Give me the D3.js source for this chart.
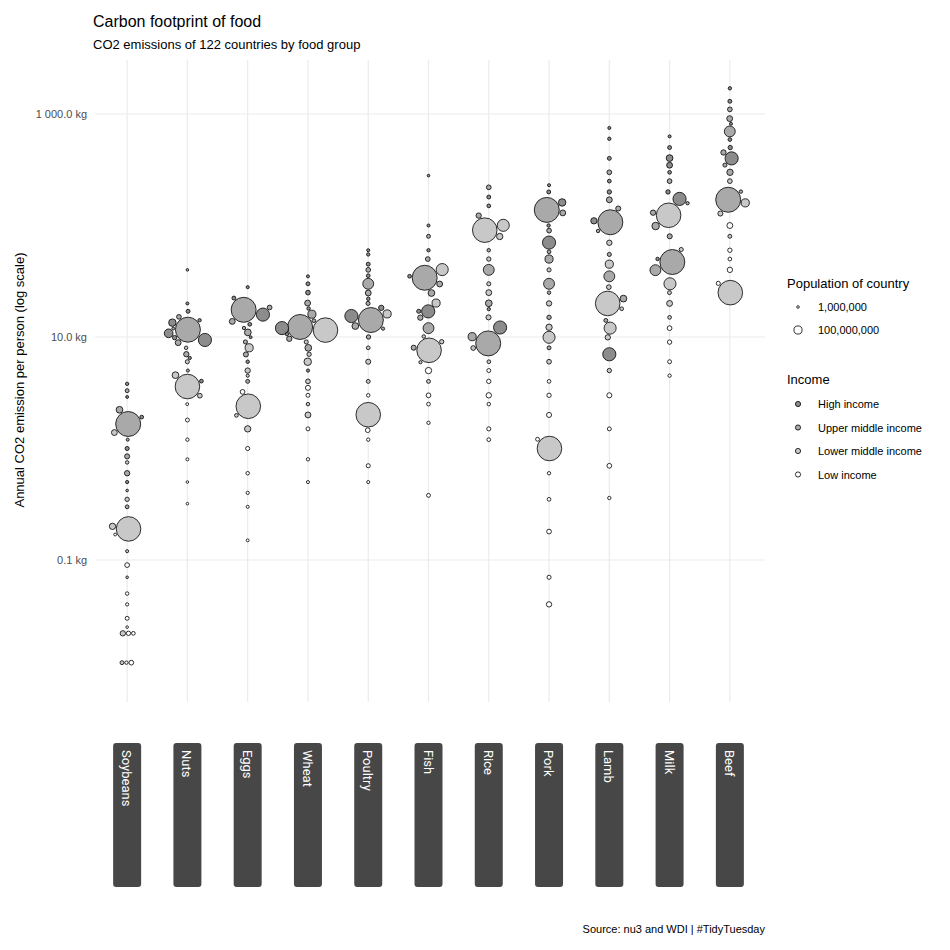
<!DOCTYPE html>
<html lang="en">
<head>
<meta charset="UTF-8">
<title>Carbon footprint of food</title>
<script src="https://cdn.jsdelivr.net/npm/d3@7"></script>
<style>
  body { margin: 0; background: #fff; }
  svg { font-family: "Liberation Sans", Arial, sans-serif; }
</style>
</head>
<body>
<svg width="950" height="950"></svg>
<script>
// categories in plotted order
var foods = ["Soybeans","Nuts","Eggs","Wheat","Poultry","Fish","Rice","Pork","Lamb","Milk","Beef"];
var incomes = ["High income","Upper middle income","Lower middle income","Low income"];
var incomeFill = ["#8c8c8c","#a9a9a9","#c8c8c8","#ffffff"];
var yTicks = [0.1, 10, 1000];
var popTicks = [1e6, 1e8];

// [kg CO2 per person, population in millions, income index]
var soybeans = [[1.66,1400,1],[0.19,1350,2],[3.8,5,0],[3.3,10,1],[2.9,2,0],[2.2,60,1],[1.9,8,0],[1.4,40,2],[1.2,3,1],[1.0,12,0],[0.85,25,1],[0.75,6,2],[0.6,30,1],[0.5,4,0],[0.42,1,1],[0.35,15,2],[0.3,9,1],[0.2,50,2],[0.17,2,3],[0.12,3,2],[0.09,20,3],[0.07,1,2],[0.05,6,3],[0.04,4,3],[0.03,10,3],[0.025,1,3],[0.022,30,2],[0.022,15,3],[0.022,8,3],[0.012,20,3],[0.012,5,3],[0.012,10,2]];
var nuts = [[11.6,1400,1],[3.6,1350,2],[40,1,1],[20,3,0],[17,10,0],[15,20,1],[14,5,0],[13,80,0],[12,2,1],[10,15,0],[9,40,1],[8,6,2],[7,30,1],[6.5,4,0],[6,12,2],[5,3,1],[4.5,60,2],[4,8,0],[3,20,2],[2.5,2,3],[1.8,10,3],[1.2,5,3],[0.8,3,3],[0.5,1,3],[0.32,1,3],[11,120,0],[9.5,330,0]];
var eggs = [[17.5,1400,1],[2.4,1350,2],[28,3,0],[22,10,0],[18,20,1],[16,330,0],[14,40,1],[13,8,0],[12,5,1],[11,60,1],[10,2,0],[9,12,1],[8,100,2],[7,25,1],[6,6,0],[5,30,2],[4.5,4,2],[4,10,1],[3,20,3],[2,8,2],[1.5,50,2],[1,12,3],[0.6,6,3],[0.4,4,3],[0.15,2,3],[0.3,3,3]];
var wheat = [[12.3,1400,1],[11.6,1350,2],[35,3,0],[30,10,0],[25,20,0],[20,40,1],[18,6,0],[15,100,1],[14,8,1],[12,330,0],[11,5,0],[10,30,1],[9,12,2],[8,60,1],[7,15,2],[6,80,2],[5,4,0],[4,20,2],[3.5,25,3],[3,10,3],[2.5,6,2],[2,40,2],[1.5,10,3],[0.5,3,3],[0.8,5,3]];
var poultry = [[14.2,1400,1],[2.0,1350,2],[60,3,0],[55,5,0],[45,10,0],[40,20,1],[35,8,0],[30,210,1],[25,40,1],[22,6,0],[20,12,1],[18,30,0],[16,100,2],[14,60,1],[12,4,1],[10,15,1],[8,8,2],[6,25,2],[4,10,2],[3,6,3],[1.6,20,3],[1.2,5,3],[0.7,12,3],[0.5,3,3],[15,330,0]];
var fish = [[34,1400,1],[7.6,1350,2],[280,1,0],[100,3,0],[80,10,1],[60,5,0],[50,20,1],[40,270,2],[35,8,0],[30,40,1],[25,60,1],[20,100,2],[17,12,0],[15,30,1],[12,210,1],[10,6,2],[9,15,2],[8,25,1],[6,4,2],[5,50,3],[4,10,2],[3,20,3],[2.5,8,3],[1.7,5,3],[0.38,10,3],[17,330,0]];
var rice = [[8.8,1400,1],[91,1350,2],[220,20,1],[180,10,0],[150,8,0],[120,30,1],[100,270,2],[80,50,2],[60,6,1],[50,15,2],[40,210,1],[30,12,2],[25,40,2],[20,60,1],[18,5,0],[15,25,2],[12,330,0],[10,100,1],[8,20,2],[6,8,2],[5,10,3],[4,15,3],[3,30,3],[2.5,6,3],[1.5,12,3],[1.2,8,3]];
var pork = [[138,1400,1],[1.0,1350,2],[230,3,0],[200,10,0],[160,80,0],[130,40,1],[100,5,0],[90,20,1],[70,330,0],[60,8,1],[50,100,1],[40,12,2],[30,210,1],[25,6,1],[20,30,2],[15,15,1],[12,50,2],[10,270,2],[8,10,1],[6,20,2],[4,8,3],[3,15,3],[2,25,3],[1.2,10,3],[0.6,5,3],[0.35,8,3],[0.18,20,3],[0.07,12,3],[0.04,30,3]];
var lamb = [[107,1400,1],[20,1350,2],[750,3,0],[600,5,0],[400,10,0],[300,20,1],[250,8,0],[200,15,0],[170,40,1],[140,25,1],[110,50,0],[90,6,1],[70,30,2],[55,12,1],[45,100,2],[35,210,1],[28,20,2],[22,60,1],[18,8,2],[14,10,1],[10,30,2],[7,330,0],[5,15,2],[3,25,3],[1.5,10,3],[0.7,20,3],[0.36,5,3],[12,270,2]];
var milk = [[47,1400,1],[124,1350,2],[630,3,0],[500,10,0],[400,60,0],[350,40,0],[300,8,0],[250,20,1],[200,15,0],[160,5,1],[130,30,1],[100,80,1],[80,25,1],[60,12,2],[50,6,0],[40,210,1],[30,270,2],[25,10,2],[20,40,2],[15,8,2],[12,20,3],[9,15,3],[6,10,3],[4.5,5,3],[170,330,0]];
var beef = [[170,1400,1],[25,1350,2],[1700,5,0],[1300,10,0],[1100,20,1],[900,40,1],[800,3,0],[700,210,1],[600,8,0],[500,15,0],[450,30,1],[400,330,0],[350,12,1],[300,50,1],[250,20,2],[200,6,1],[160,100,2],[130,25,2],[100,40,3],[80,10,2],[60,15,3],[50,8,3],[40,30,3],[30,12,3]];
var series = [soybeans, nuts, eggs, wheat, poultry, fish, rice, pork, lamb, milk, beef];

var svg = d3.select("svg");
var x = d3.scaleBand().domain(foods).range([97, 760]);
var y = d3.scaleLog().domain([0.1, 1000]).range([560, 114]);
var r = d3.scaleSqrt().domain([0, 1.4e9]).range([1, 12.5]);

// grid
svg.append("g").selectAll("line").data(yTicks).enter().append("line")
  .attr("x1", 95).attr("x2", 765).attr("y1", d => y(d)).attr("y2", d => y(d))
  .attr("stroke", "#ebebeb").attr("stroke-width", 1.2);
svg.append("g").selectAll("line").data(foods).enter().append("line")
  .attr("x1", d => x(d) + x.bandwidth()/2).attr("x2", d => x(d) + x.bandwidth()/2)
  .attr("y1", 60).attr("y2", 702)
  .attr("stroke", "#ebebeb").attr("stroke-width", 1.2);

svg.append("g").selectAll("text").data(yTicks).enter().append("text")
  .attr("x", 87).attr("y", d => y(d) + 4).attr("text-anchor", "end")
  .attr("font-size", 11).attr("fill", "#4d4d4d")
  .text(d => d3.format(",.1f")(d).replace(",", " ") + " kg");

svg.append("text").attr("transform", "translate(24,380) rotate(-90)")
  .attr("text-anchor", "middle").attr("font-size", 13)
  .text("Annual CO2 emission per person (log scale)");

// points, laid out as a beeswarm
var nodes = [];
series.forEach(function (s, i) {
  s.forEach(function (d) {
    var cx = x(foods[i]) + x.bandwidth()/2;
    nodes.push({cx: cx, ty: y(d[0]), x: cx, y: y(d[0]), r: r(d[1]*1e6), inc: d[2]});
  });
});
var sim = d3.forceSimulation(nodes)
  .force("x", d3.forceX(d => d.cx).strength(0.04))
  .force("y", d3.forceY(d => d.ty).strength(0.9))
  .force("c", d3.forceCollide(d => d.r + 0.4))
  .stop();
for (var t = 0; t < 300; t++) sim.tick();
nodes.forEach(d => { d.x = Math.max(d.cx - 26, Math.min(d.cx + 26, d.x)); });
nodes.sort((a, b) => b.r - a.r);

svg.append("g").selectAll("circle").data(nodes).enter().append("circle")
  .attr("cx", d => d.x).attr("cy", d => d.y).attr("r", d => d.r)
  .attr("fill", d => incomeFill[d.inc]).attr("stroke", "#000").attr("stroke-width", 0.8);

// facet strips
var strip = svg.append("g").selectAll("g").data(foods).enter().append("g")
  .attr("transform", d => "translate(" + (x(d) + x.bandwidth()/2) + ",0)");
strip.append("rect").attr("x", -14).attr("y", 743).attr("width", 28).attr("height", 144)
  .attr("rx", 3).attr("fill", "#474747");
strip.append("text").attr("transform", "translate(-5,750) rotate(90)")
  .attr("fill", "#fff").attr("font-size", 13).attr("font-family", "Roboto, sans-serif")
  .text(d => d);

// titles
svg.append("text").attr("x", 93).attr("y", 27).attr("font-size", 16).text("Carbon footprint of food");
svg.append("text").attr("x", 93).attr("y", 49).attr("font-size", 13).text("CO2 emissions of 122 countries by food group");
svg.append("text").attr("x", 765).attr("y", 933).attr("text-anchor", "end").attr("font-size", 11)
  .text("Source: nu3 and WDI | #TidyTuesday");

// legends
svg.append("text").attr("x", 787).attr("y", 288).attr("font-size", 13).text("Population of country");
var pl = svg.append("g").selectAll("g").data(popTicks).enter().append("g")
  .attr("transform", (d, i) => "translate(798," + (307 + i*23) + ")");
pl.append("circle").attr("r", d => r(d)).attr("fill", "#fff").attr("stroke", "#000").attr("stroke-width", 0.8);
pl.append("text").attr("x", 20).attr("y", 4).attr("font-size", 11).text(d => d3.format(",")(d));

svg.append("text").attr("x", 787).attr("y", 384).attr("font-size", 13).text("Income");
var il = svg.append("g").selectAll("g").data(incomes).enter().append("g")
  .attr("transform", (d, i) => "translate(798," + (404 + i*23.5) + ")");
il.append("circle").attr("r", 2.6).attr("fill", (d, i) => incomeFill[i]).attr("stroke", "#000").attr("stroke-width", 0.8);
il.append("text").attr("x", 20).attr("y", 4).attr("font-size", 11).text(d => d);
</script>
</body>
</html>
